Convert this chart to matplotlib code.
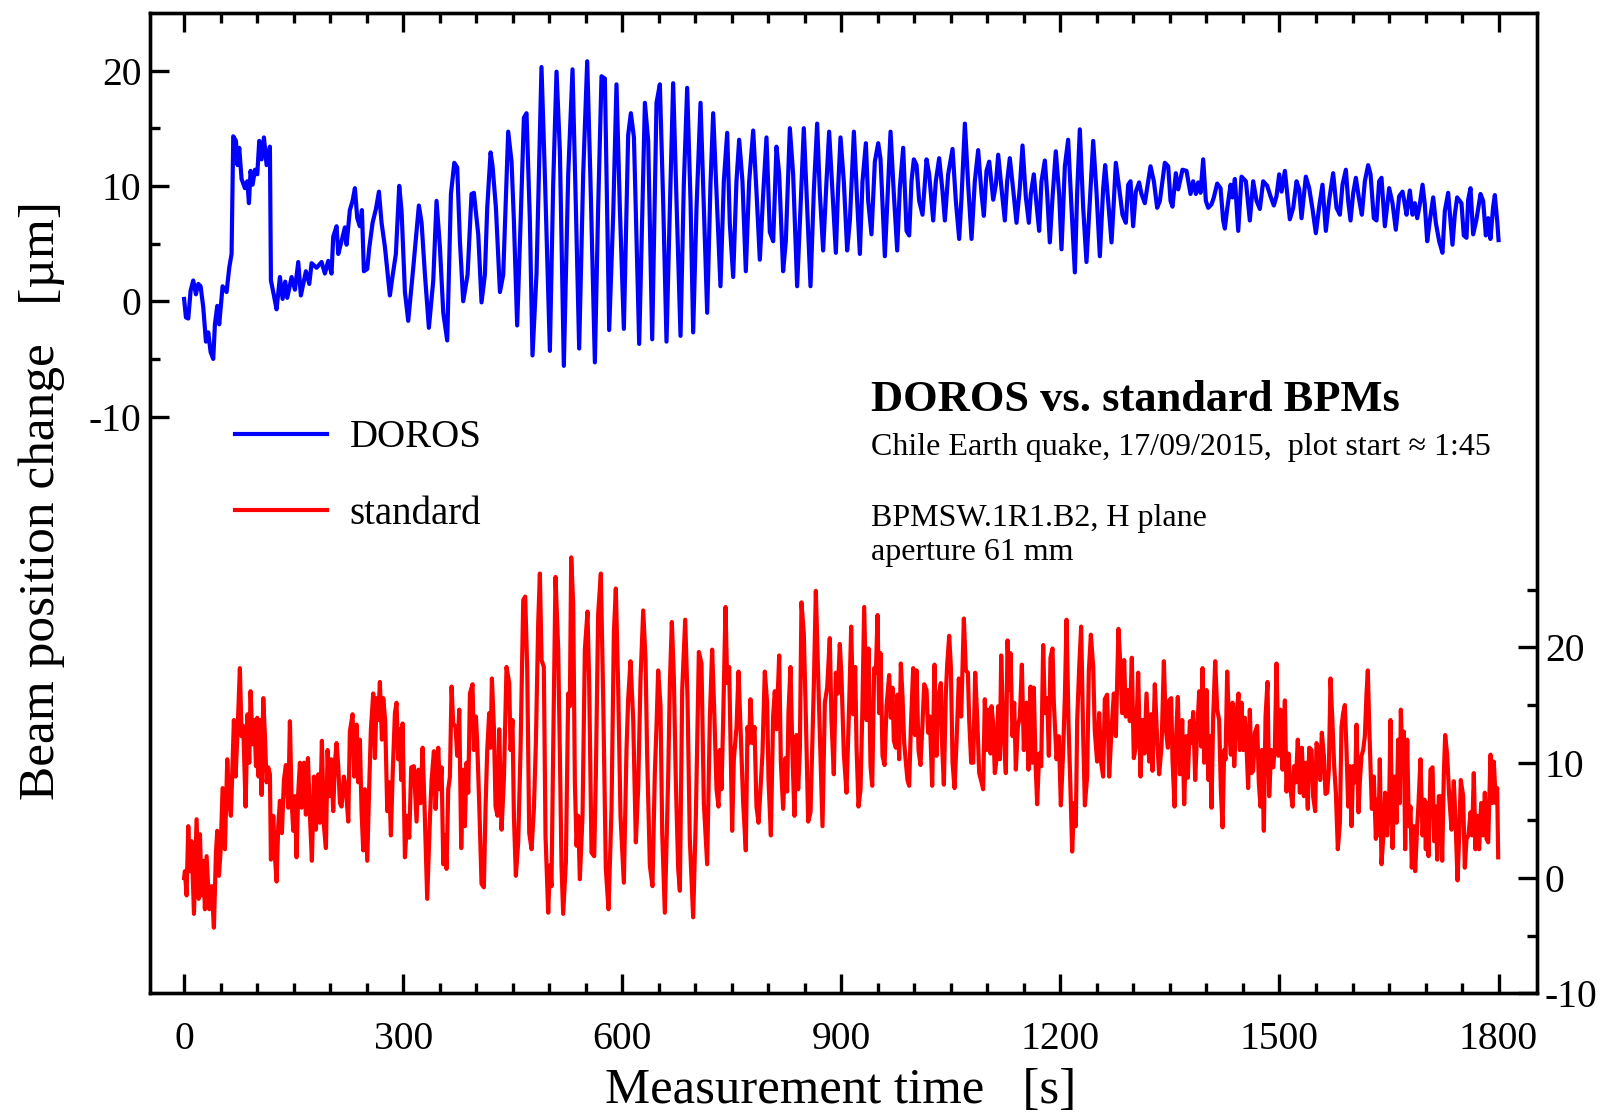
import matplotlib
matplotlib.use('Agg')
import matplotlib.pyplot as plt
from matplotlib.ticker import FixedLocator

plt.rcParams['font.family'] = ['Liberation Serif', 'DejaVu Serif']
plt.rcParams['axes.unicode_minus'] = False

# ---------------- data ----------------
doros_t = [
    0, 2.5, 5.7, 8.9, 12.5, 16.2, 19.4, 22.6, 26.2, 29.9, 33.1, 36.3, 39.9, 42.2, 45.4, 48.1,
    52.7, 58.2, 61.8, 65.0, 67.3, 71.0, 73.2, 75.5, 78.7, 83.3, 86.5, 88.8, 91.0, 93.8, 97.0,
    100.2, 102.9, 106.1, 109.3, 113.0, 117.5, 118.9, 123.0, 126.6, 131.2, 134.9, 138.5, 141.3,
    147.2, 151.8, 156.3, 159.9, 166.8, 171.4, 174.6, 181.4, 188.3, 192.8, 197.4, 201.9, 204.2,
    208.8, 211.1, 215.6, 220.2, 222.5, 227.0, 230.7, 233.9, 237.1, 240.7, 243.5, 246.2, 250.8,
    253.5, 258.1, 262.7, 266.8, 270.4, 275.0, 281.8, 285.5, 290.0, 294.6, 297.8, 302.4, 306.9,
    313.8, 321.5, 325.2, 329.7, 335.2, 341.2, 345.7, 350.3, 354.9, 360.3, 365.4, 370.0, 374.0,
    377.7, 382.2, 388.2, 393.6, 396.8, 402.8, 407.3, 411.9, 415.1, 419.7, 422.4, 427.0, 432.5,
    437.0, 443.8, 448.4, 451.6, 456.1, 460.7, 465.3, 468.9, 473.5, 477.1, 482.6, 489.4, 494.0,
    500.9, 505.4, 510.0, 514.6, 520.0, 526.0, 531.9, 536.5, 541.0, 546.5, 552.0, 556.5, 562.5,
    567.0, 571.6, 576.2, 582.1, 587.6, 592.1, 596.7, 602.2, 608.1, 611.8, 616.0, 623.2, 631.0,
    635.5, 641.0, 646.9, 651.5, 656.0, 660.6, 665.2, 669.7, 674.3, 679.8, 684.3, 688.9, 693.5,
    697.1, 701.7, 707.2, 711.7, 716.3, 720.8, 724.5, 729.0, 734.5, 739.1, 743.7, 747.3, 751.9,
    756.4, 760.1, 764.6, 769.2, 773.8, 779.3, 783.8, 788.4, 793.0, 797.5, 802.1, 806.7, 811.2,
    814.9, 820.3, 824.0, 829.5, 834.0, 839.5, 844.1, 848.6, 853.2, 857.8, 862.3, 866.9, 870.5,
    875.1, 879.7, 883.3, 887.9, 892.5, 895.6, 898.9, 903.4, 908.0,
    911.7, 917.2, 921.7, 925.4, 929.0, 933.6, 936.8, 941.3, 945.9, 950.5, 953.7, 959.6, 962.8,
    967.4, 971.9, 976.5, 980.1, 984.7, 989.3, 992.9, 996.1, 999.3, 1003.0, 1006.6, 1011.2,
    1016.7, 1020.3, 1025.8, 1029.4, 1034.0, 1038.6, 1041.8, 1046.3, 1052.3, 1056.8, 1061.4,
    1064.6, 1069.2, 1073.7, 1078.3, 1082.8, 1087.4, 1092.0, 1095.2, 1098.8, 1102.5, 1108.0,
    1111.6, 1114.8, 1119.3, 1123.9, 1127.1, 1130.7, 1135.3, 1139.9, 1144.4, 1148.1, 1152.7,
    1156.8, 1159.5, 1163.6, 1167.3, 1170.9, 1174.1, 1178.7, 1181.9, 1185.5, 1189.2, 1193.7,
    1198.3, 1201.5, 1206.1, 1210.6, 1215.2, 1219.8, 1223.0, 1226.6, 1231.2, 1235.7, 1240.3,
    1244.9, 1249.4, 1254.0, 1258.6, 1261.3, 1265.4, 1270.0, 1273.2, 1275.9, 1280.5, 1285.0,
    1289.6, 1292.8, 1296.0, 1299.6, 1303.3, 1307.8, 1311.0, 1315.6, 1320.2, 1323.4, 1328.0,
    1332.5,
    1336.2, 1343.0, 1347.6, 1350.8, 1353.5, 1358.1, 1361.3, 1367.2, 1372.7, 1378.2, 1381.8,
    1385.5, 1388.7, 1391.9, 1395.5, 1399.2, 1402.4, 1406.9, 1410.1, 1414.7, 1419.3, 1422.9,
    1425.2, 1428.4, 1433.0, 1435.7, 1438.9, 1443.5, 1448.0, 1454.0, 1459.4, 1464.0, 1468.6,
    1473.1, 1477.7, 1483.2, 1487.7, 1492.3, 1495.9, 1499.6, 1502.8, 1507.4, 1510.5, 1514.2,
    1518.8, 1523.4, 1527.0, 1530.2, 1536.1, 1540.7, 1545.2, 1549.8, 1554.4, 1558.9, 1563.5,
    1568.1, 1573.5, 1578.1, 1582.7, 1586.3, 1590.9, 1594.1, 1597.3, 1601.0, 1604.6, 1609.1,
    1612.8, 1616.9, 1621.4, 1624.7, 1629.2, 1632.9, 1636.5, 1639.7, 1644.3, 1650.2, 1654.8,
    1659.3, 1663.9, 1668.5, 1671.7, 1674.0, 1678.5, 1682.2, 1685.4, 1688.6, 1692.2, 1695.9,
    1699.0, 1702.3, 1705.9, 1710.5, 1714.1, 1718.7, 1723.2, 1726.4, 1731.0, 1734.2, 1736.9,
    1740.1, 1743.3, 1749.2, 1752.4, 1756.1, 1758.4, 1761.6, 1765.2, 1769.8, 1775.3, 1778.9,
    1782.6, 1785.8, 1788.9, 1792.6, 1794.9, 1798.1, 1800.0,
]
doros_um = [
    0.2, -1.4, -1.5, 0.9, 1.8, 0.6, 1.5, 1.3, -0.5, -3.5, -2.7, -4.4, -5.0, -2.0, -0.4, -2.0,
    1.3, 0.8, 2.9, 4.1, 14.3, 13.9, 11.8, 13.3, 10.6, 9.8, 10.4, 8.5, 11.3, 10.1, 11.4,
    11.0, 13.9, 12.3, 14.2, 11.8, 13.4, 1.8, 0.5, -0.7, 2.1, 0.2, 1.7, 0.3,
    2.1, 1.0, 3.4, 0.5, 2.6, 1.5, 3.3, 2.9, 3.4, 2.4, 3.5, 2.4, 5.6,
    6.5, 4.1, 5.2, 6.4, 4.9, 7.9, 8.7, 9.8, 7.2, 6.5, 7.9, 2.6, 2.8,
    4.6, 6.8, 8.0, 9.5, 6.8, 4.7, 0.5, 2.2, 4.1, 10.0, 7.8, 0.8, -1.7,
    2.9, 8.3, 6.8, 2.4, -2.3, 1.8, 8.7, 4.7, -1.0, -3.4, 9.3, 12.0, 11.6,
    5.2, 0.0, 2.3, 9.3, 9.4, 5.8, -0.1, 2.3, 8.1, 12.9, 11.7, 8.1, 0.8,
    2.3, 14.7, 12.1, 7.0, -2.1, 6.7, 15.9, 16.3, 7.0, -4.7, 2.4, 20.3, 11.0,
    -4.3, 10.1, 19.9, 13.0, -5.6, 11.0, 20.1, 8.1, -4.1, 11.0, 20.8, 10.4, -5.3,
    8.1, 19.5, 19.3, -2.5, 7.5, 18.8, 8.1, -2.4, 14.4, 16.3, 14.2, -3.7, 17.2,
    13.9, -3.3, 17.2, 18.8, 8.7, -3.5, 8.1, 18.9, 8.7, -3.0, 10.1, 18.5, 8.7,
    -2.7, 8.1, 17.2, 8.1, -1.0, 10.1, 16.3, 9.5, 1.3, 10.4, 14.6, 6.7, 2.1,
    10.4, 14.0, 10.4, 2.6, 10.4, 14.8, 9.5, 3.6, 9.3, 14.2, 6.0, 5.2, 13.4,
    11.0, 2.6, 5.2, 15.0, 11.0, 1.3, 8.1, 15.0, 8.1, 1.3, 9.5, 15.4, 9.5,
    4.4, 10.4, 14.7, 9.5, 4.2, 9.8, 14.2, 10.4, 4.4,
    7.0, 14.7, 8.7, 4.1, 10.4, 13.7, 8.7, 5.8, 12.1, 13.7, 12.3, 3.9, 8.4,
    14.7, 9.3, 4.4, 9.8, 13.3, 6.1, 5.7, 10.4, 12.3, 11.8, 8.7, 7.5,
    12.3, 11.0, 7.0, 10.4, 12.4, 9.5, 7.0, 11.0, 13.2, 8.7, 5.4,
    9.0, 15.4, 10.1, 5.4, 10.4, 13.1, 9.3, 7.4, 11.3, 12.1, 8.8,
    10.1, 12.7, 9.8, 7.0, 10.4, 12.4, 9.7, 6.8, 9.8, 13.5, 9.0,
    6.8, 9.3, 11.0, 8.4, 6.1, 10.4, 12.2, 9.3, 5.1, 9.0, 13.0,
    9.3, 4.5, 11.7, 14.0, 8.1, 2.5, 9.5, 14.9, 8.1, 3.4, 8.7,
    13.9, 9.5, 3.9, 9.8, 11.8, 8.7, 5.1, 8.7, 12.0, 9.8, 7.5,
    6.8, 10.1, 10.4, 6.5, 9.5, 10.3, 9.3, 8.5, 10.4, 11.7, 10.4,
    8.1,
    8.7, 12.0, 11.7, 8.7, 8.2, 11.1, 9.7, 11.4, 11.3, 9.3, 10.4,
    9.3, 10.3, 9.4, 12.3, 8.7, 8.1, 8.4, 9.0, 10.2, 9.8, 7.0,
    6.3, 8.0, 10.1, 9.0, 10.6, 6.1, 10.8, 10.4, 7.0, 10.4, 8.7,
    8.0, 10.4, 10.0, 9.1, 8.3, 9.1, 11.0, 9.5, 11.3, 9.4, 7.1,
    8.1, 10.4, 9.7, 7.2, 10.8, 9.8, 8.0, 5.9, 8.2, 10.1, 6.1,
    8.8, 11.1, 8.1, 7.5, 10.1, 11.4, 8.7, 7.0, 9.4, 10.7, 8.8,
    7.5, 10.4, 11.8, 11.0, 7.2, 7.0, 10.4, 10.7, 6.5, 9.8, 8.5,
    6.2, 9.1, 9.5, 8.4, 7.5, 9.6, 7.5, 8.5, 7.2, 8.4, 10.1,
    8.4, 5.2, 7.0, 9.0, 6.8, 5.2, 4.2, 7.8, 9.4, 7.0, 4.9,
    7.5, 9.0, 8.5, 5.7, 5.5, 8.8, 9.8, 5.8, 7.1, 9.3, 8.7,
    5.7, 7.2, 5.4, 8.2, 9.2, 7.0, 5.3,
]

std_t = [
    0, 1.1, 3.4, 5.7, 8.0, 10.3, 13.5, 17.1, 19.9, 21.7, 24.0, 26.2, 28.5, 30.8, 34.5, 37.7,
    40.8, 43.6, 45.4, 47.7, 50.0, 52.7, 55.9, 59.1, 61.8, 64.1, 68.2, 70.5, 73.2, 76.4, 78.7,
    81.0, 84.2, 86.9, 89.2, 91.0, 93.8, 96.5, 98.4, 100.2, 102.0, 103.8, 106.1, 108.4, 110.7,
    112.9, 115.2, 117.5, 118.9, 122.1, 124.4, 126.6, 128.9, 131.2, 133.9, 136.7, 139.4, 142.6,
    144.9, 147.2, 149.5, 151.8, 154.0, 156.3, 158.6, 160.9, 164.1, 166.8, 169.6, 172.3, 175.0,
    177.8, 180.5, 183.7, 186.0, 188.7, 191.5, 194.2, 196.5, 198.8, 201.5, 204.2, 206.5, 208.8,
    211.1, 213.4, 215.6, 218.8, 221.6, 224.8, 227.0, 230.7, 233.0, 236.2, 238.5, 240.7, 243.0,
    245.3, 247.6, 250.8, 253.5, 255.8, 259.0, 261.3, 263.6, 265.9, 268.1, 270.9, 272.7, 275.4,
    278.2, 280.9, 283.2, 285.5, 288.7, 290.9, 293.2, 295.5, 297.3, 299.2, 302.4, 305.6, 308.3,
    311.0, 314.7, 318.3, 321.1, 323.8, 326.6, 329.3, 332.9, 336.6, 338.9, 342.1, 344.4, 348.0,
    350.3, 352.6, 354.9, 357.1, 359.4, 361.7, 364.0, 366.3, 368.5, 371.7, 374.0, 376.8, 379.5,
    382.2, 384.5, 386.8, 389.1, 391.4, 395.0, 396.8, 399.6, 401.4, 404.1, 407.3, 410.5, 412.8,
    415.1, 417.8, 419.7, 421.5, 424.2, 426.5, 429.2, 431.5,
    434.7, 437.9, 441.5, 445.2, 447.0, 449.7, 451.6, 454.3, 457.5, 460.7, 464.4, 467.1, 469.8,
    472.6, 475.8, 479.0, 481.7, 484.9, 487.2, 489.5, 492.6, 494.9, 498.6, 500.9, 503.1, 505.4,
    508.6, 512.3, 514.6, 516.8, 519.1, 522.8, 526.0, 528.2, 530.1, 532.8, 535.1, 537.4, 539.7,
    541.9, 545.6, 548.8, 552.4, 554.7, 557.9, 561.6, 563.8, 567.0, 570.7, 573.9, 577.5, 581.2,
    585.3, 588.5, 591.2, 594.4, 597.6, 602.2, 605.8, 608.1, 611.3, 615.0, 618.6, 621.8, 625.0,
    628.7, 631.9, 634.1, 637.8, 641.4, 644.6, 646.9, 649.2, 652.4, 654.7, 658.3, 662.9, 665.2,
    667.9, 670.6, 673.4, 676.6, 678.9, 682.1, 686.2, 689.4, 692.5, 697.1, 700.8, 704.9, 708.5,
    711.7, 716.3, 720.0, 723.1, 725.9, 729.1, 731.8, 733.6, 735.9, 738.2, 741.4, 743.7, 746.4,
    748.2, 750.5, 752.8, 756.5, 759.2, 762.0, 765.6, 769.2, 771.5, 773.8, 775.6, 778.4, 781.1,
    783.8, 786.6, 789.3, 792.0, 795.2, 798.4, 800.3, 803.5, 806.6, 808.9, 811.2, 814.9, 817.2,
    820.3, 823.5, 825.8, 827.6, 830.4, 833.1, 835.8, 838.6, 840.9, 843.2, 845.4, 848.6, 851.4,
    854.6, 857.8, 860.5, 862.3, 865.1, 868.3, 871.5, 874.2, 877.4, 880.6, 884.2, 886.5, 889.7,
    892.5, 895.2, 897.9, 900.2, 903.4, 907.1, 910.8,
    913.5, 916.2, 919.0, 920.8, 923.5, 926.3, 928.6, 931.3, 934.5, 937.2, 940.0, 942.3, 945.0,
    947.3, 949.6, 951.8, 953.7, 956.4, 959.2, 961.9, 965.5, 967.8, 970.1, 971.9, 974.7, 977.0,
    979.2, 981.5, 983.8, 986.1, 988.4, 990.6, 992.9, 995.2, 998.4, 1000.7, 1003.0, 1005.7,
    1008.4, 1011.2, 1013.5, 1016.7, 1018.9, 1021.2, 1024.4, 1027.6, 1030.3, 1033.1, 1036.3,
    1038.1, 1040.4, 1043.1, 1045.0, 1047.7, 1050.0, 1052.3, 1055.0, 1057.7, 1060.9, 1064.1,
    1067.8, 1070.5, 1073.3, 1075.1, 1077.8, 1080.6, 1083.3, 1086.0, 1088.8, 1092.0, 1094.2,
    1096.5, 1098.8, 1101.5, 1104.3, 1105.7, 1107.9, 1110.2, 1112.5, 1114.8, 1117.1, 1118.9,
    1121.6, 1123.9, 1125.3, 1127.6, 1129.9, 1131.7, 1134.4, 1136.7, 1139.0, 1141.7, 1144.5,
    1147.2, 1149.9, 1153.6, 1156.3, 1159.1, 1161.3, 1163.6, 1165.9, 1168.2, 1170.9, 1173.7,
    1176.4, 1178.7, 1181.9, 1184.2, 1186.4, 1189.2, 1191.0, 1194.7, 1197.9, 1200.6, 1203.8,
    1206.1, 1208.4, 1211.1, 1213.8, 1216.1, 1218.8, 1221.1, 1223.0, 1225.7, 1228.4, 1231.2,
    1233.5, 1236.6, 1238.9, 1241.7, 1244.9, 1247.1, 1250.3, 1253.1, 1255.8, 1258.5, 1260.8,
    1264.0, 1266.8, 1270.0, 1273.2, 1275.9, 1279.5, 1282.3, 1284.6, 1287.3, 1289.6, 1292.3,
    1295.1, 1297.8, 1300.5, 1303.3, 1306.5, 1309.7, 1312.4, 1315.1, 1317.9, 1321.5, 1323.8,
    1326.1, 1329.3, 1332.5, 1335.2,
    1338.5, 1341.7, 1344.4, 1347.2, 1349.0, 1351.7, 1353.5, 1356.3, 1358.1, 1360.8, 1363.6,
    1366.8, 1369.5, 1372.3, 1374.5, 1377.3, 1379.6, 1381.8, 1384.6, 1387.3, 1390.1, 1392.8,
    1394.6, 1396.9, 1400.1, 1402.8, 1404.7, 1406.9, 1409.2, 1412.0, 1414.7, 1417.4, 1419.7,
    1422.0, 1424.3, 1426.1, 1428.4, 1431.1, 1433.4, 1435.7, 1438.0, 1441.2, 1443.9, 1445.7,
    1448.0, 1450.3, 1452.6, 1454.9, 1457.1, 1459.4, 1461.7, 1464.0, 1466.3, 1469.5, 1471.7,
    1474.0, 1475.9, 1478.6, 1480.9, 1483.6, 1485.9, 1488.6, 1491.4, 1493.7, 1495.9, 1498.7,
    1501.4, 1504.2, 1507.4, 1509.6, 1512.4, 1515.1, 1517.9, 1520.1, 1522.4, 1525.1, 1527.9,
    1530.6, 1533.4, 1536.1, 1538.8, 1540.7, 1543.9, 1546.1, 1548.9, 1550.7, 1553.4, 1555.7,
    1558.0, 1560.8, 1563.0, 1565.3, 1567.6, 1569.9, 1572.6, 1574.9, 1577.2, 1579.9, 1582.7,
    1584.9, 1587.2, 1589.5, 1591.8, 1594.1, 1596.4, 1598.6, 1600.9, 1603.7, 1605.5, 1608.2,
    1610.0, 1612.3, 1614.6, 1616.9, 1619.2, 1621.0, 1622.8, 1624.6, 1626.5, 1629.2, 1632.0,
    1633.8, 1635.6, 1637.4, 1639.7, 1642.0, 1644.7, 1647.5, 1650.2, 1652.0, 1654.8, 1657.5,
    1660.3, 1662.5, 1664.8, 1666.2, 1668.5, 1670.3, 1672.1, 1674.9, 1677.1, 1679.4, 1681.2,
    1684.0, 1685.8, 1688.6, 1690.4, 1693.1, 1695.9, 1698.6, 1700.4, 1702.2, 1704.1, 1706.8,
    1709.6, 1711.8, 1714.1, 1716.0, 1718.2, 1720.5, 1722.8, 1725.1, 1726.9, 1729.6, 1732.4,
    1735.6, 1738.7, 1741.0, 1743.8, 1746.1, 1748.3, 1751.5, 1753.8, 1756.1, 1758.8, 1761.6,
    1763.8, 1766.1, 1768.4, 1770.7, 1773.4, 1776.2, 1778.9, 1781.2, 1783.5, 1785.8, 1789.0,
    1791.2, 1793.5, 1796.3, 1798.1, 1799.5,
]
std_um = [
    0.0, 0.6, -1.5, 4.5, 0.6, 3.2, -3.1, 5.1, -1.8, 3.8, -1.5, 1.5, -2.7, 1.9, -2.7, -0.7,
    -4.3, 2.2, 4.1, 0.2, 2.4, 7.8, 2.5, 10.3, 6.5, 5.4, 13.7, 8.8, 12.7, 18.2, 12.3,
    13.2, 6.2, 14.2, 10.0, 16.2, 11.6, 13.7, 9.7, 13.9, 8.8, 13.7, 7.2, 15.6, 12.3,
    8.3, 9.6, 9.0, 1.6, 5.4, 1.9, -0.3, 4.5, 6.7, 3.9, 8.5, 9.8, 6.1,
    13.6, 6.8, 4.1, 7.1, 1.8, 7.4, 10.0, 6.1, 10.0, 5.5, 10.4, 5.4, 1.5,
    8.8, 4.2, 9.0, 4.8, 11.9, 4.5, 2.6, 11.1, 7.1, 10.3, 5.8, 10.0, 11.7,
    9.7, 6.5, 6.2, 8.8, 7.7, 4.9, 12.7, 14.2, 8.8, 13.3, 8.3, 12.0, 5.8,
    2.4, 7.7, 1.5, 8.0, 12.9, 16.0, 10.4, 15.6, 13.7, 17.0, 12.0, 15.6, 13.6,
    5.8, 8.3, 3.7, 8.8, 14.3, 15.2, 10.3, 12.9, 8.5, 13.4, 1.8, 5.4, 3.5,
    9.6, 9.7, 4.9, 9.4, 6.5, 11.3, 6.1, -1.8, 5.1, 8.5, 11.0, 6.0, 11.3,
    7.7, 9.6, 1.2, 3.7, 0.8, 7.7, 8.8, 16.6, 13.4, 13.1, 10.6, 14.6, 2.6,
    9.4, 4.5, 10.0, 7.4, 16.0, 16.8, 11.1, 14.0, 11.7, 6.5, -0.5, -0.8, 6.1,
    11.1, 14.3, 11.3, 17.3, 13.1, 6.2, 5.4, 12.9,
    4.2, 8.5, 18.3, 16.9, 11.1, 13.7, 5.4, 0.2, 3.1, 11.1, 24.1, 24.4, 18.3,
    3.9, 2.5, 6.0, 11.7, 22.1, 26.4, 18.9, 18.3, 3.7, -3.0, 1.1, -0.7, 11.1,
    26.1, 19.8, 10.6, 1.1, -3.1, 1.4, 16.0, 14.9, 27.8, 23.8, 8.3, 2.8, 5.4,
    -0.1, 5.4, 19.8, 23.1, 16.9, 2.2, 1.9, 8.8, 22.9, 26.4, 15.5, 0.8, -2.7,
    6.0, 21.2, 25.1, 16.6, 5.4, -0.4, 11.1, 15.5, 18.8, 13.7, 3.1, 7.8, 17.2,
    23.2, 18.9, 10.6, 1.1, -0.7, 9.1, 13.1, 18.0, 14.9, 3.9, -3.0, 8.8, 16.9,
    22.2, 17.5, 8.3, 0.8, -1.1, 16.3, 22.4, 15.5, 3.4, -3.4, 5.4, 19.6, 18.6,
    6.5, 1.2, 14.0, 19.8, 14.6, 7.7, 6.2, 11.1, 7.7, 13.7, 23.5, 16.9, 18.3,
    12.0, 4.1, 10.3, 13.1, 17.9, 12.9, 6.5, 2.4, 13.1, 11.7, 15.5, 11.7, 13.1,
    6.2, 4.8, 7.7, 10.8, 17.9, 15.2, 8.5, 3.7, 14.0, 16.2, 12.9, 19.3, 10.0,
    6.0, 10.4, 7.5, 14.3, 18.3, 10.6, 5.4, 12.4, 7.7, 11.1, 23.9, 21.2, 14.0,
    4.9, 5.7, 12.4, 16.6, 24.9, 17.5, 10.6, 4.5, 15.2, 16.5, 20.8, 13.7, 9.0,
    17.8, 16.0, 20.3, 17.5, 10.8, 7.4, 15.2,
    21.8, 14.2, 18.3, 11.4, 6.2, 7.7, 14.0, 23.5, 13.7, 19.9, 9.7, 8.0, 18.2,
    17.8, 22.8, 14.3, 19.5, 10.6, 9.8, 14.9, 17.6, 13.9, 16.5, 11.9, 11.3, 15.9,
    10.3, 18.6, 15.7, 11.7, 10.0, 8.5, 8.0, 13.1, 18.2, 12.4, 18.0, 11.1,
    9.8, 13.4, 16.8, 16.3, 12.6, 14.0, 8.0, 18.5, 10.6, 15.7, 16.9,
    11.4, 8.1, 16.0, 18.5, 21.0, 18.3, 10.0, 7.8, 11.7, 17.3, 14.0,
    22.5, 18.0, 17.8, 13.7, 10.0, 10.0, 17.8, 14.0, 9.1, 8.3, 7.7,
    15.5, 11.1, 14.6, 10.8, 14.9, 13.4, 9.1, 10.3, 14.9, 10.3, 19.3,
    13.4, 10.8, 9.1, 20.6, 16.3, 19.5, 12.3, 15.2, 9.4, 13.1, 14.0,
    18.5, 11.1, 15.2, 9.4, 16.6, 10.0, 16.5, 10.0, 6.4, 10.8, 9.7,
    20.2, 14.3, 15.6, 10.6, 19.1, 19.9, 15.2, 10.3, 12.3, 6.3, 11.1,
    15.7, 22.4, 13.4, 7.7, 2.3, 6.5, 4.5, 13.7, 18.2, 21.8, 12.3,
    6.3, 8.8, 17.9, 21.1, 18.3, 12.7, 10.1, 14.3, 10.0, 8.8, 15.5,
    15.9, 8.8, 12.9, 16.0, 12.3, 21.6, 18.3, 14.3, 18.9, 14.0, 16.3,
    13.6, 19.1, 10.4, 11.4, 17.8, 8.8, 13.7, 10.8, 16.0, 10.1, 14.2,
    9.3, 16.8, 12.0, 9.0,
    11.4, 18.8, 12.9, 11.3, 15.4, 15.6, 10.3, 6.2, 11.7, 15.7, 9.0,
    13.7, 6.4, 12.3, 8.7, 13.6, 11.7, 14.4, 8.5, 12.7, 16.2, 11.4,
    18.2, 10.0, 16.3, 8.5, 12.3, 6.1, 14.0, 18.8, 14.6, 13.7, 7.7,
    4.4, 11.1, 10.3, 17.9, 12.9, 10.7, 15.2, 9.7, 14.3, 16.0, 11.1,
    15.2, 11.1, 13.9, 11.4, 7.8, 14.6, 9.1, 9.3, 12.6, 13.2, 8.3,
    6.2, 11.1, 4.1, 14.0, 17.0, 7.1, 11.1, 9.6, 11.3, 18.6, 10.6,
    14.6, 9.4, 15.4, 7.5, 10.8, 7.7, 6.2, 9.7, 8.3, 12.0, 7.4,
    11.3, 7.1, 10.0, 6.0, 11.3, 11.1, 7.1, 5.8, 11.7, 11.1, 8.5,
    12.6, 10.6, 7.3, 7.4, 9.4, 17.3, 13.4, 9.7, 7.4, 2.5, 4.8,
    13.1, 14.3, 15.0, 11.1, 6.2, 9.7, 4.5, 9.7, 8.3, 13.3, 5.7,
    8.3, 10.6, 11.1, 12.3, 16.0, 18.0, 13.4, 9.8, 6.0, 8.8, 3.4,
    6.8, 3.7, 10.3, 1.2, 3.4, 7.4, 3.7, 6.5, 13.7, 2.6, 8.8,
    4.8, 12.0, 6.5, 14.6, 9.7, 12.7, 2.5, 12.0, 4.5, 6.2, 0.9,
    4.5, 0.6, 4.5, 6.5, 10.3, 3.7, 6.8, 2.5, 6.5, 1.9, 9.4,
    9.6, 3.2, 6.2, 1.6, 7.1, 7.1, 1.5, 9.1, 12.4, 10.7, 7.1,
    4.2, 8.4, 5.1, -0.2, 3.7, 8.5, 7.1, 0.9, 3.4, 3.7, 5.7,
    3.7, 9.1, 2.5, 5.4, 2.5, 6.5, 3.7, 7.4, 3.4, 3.1, 10.7,
    6.5, 10.1, 6.5, 7.8, 1.8,
]

x_major = [0, 300, 600, 900, 1200, 1500, 1800]
x_minor = [t for t in range(0, 1801, 50) if t % 300 != 0]
y_left_major = [-10, 0, 10, 20]
y_left_minor = [-5, 5, 15]
y_right_major = [-10, 0, 10, 20]
y_right_minor = [-5, 5, 15, 25]

# ---------------- figure ----------------
fig = plt.figure(figsize=(16.14, 11.15), dpi=100)
ax = fig.add_axes([0.0928, 0.109, 0.8592, 0.8795])
ax2 = ax.twinx()

l1, = ax.plot(doros_t, doros_um, color='#0000ff', lw=3.0, label='DOROS', solid_joinstyle='round')
l2, = ax2.plot(std_t, std_um, color='#ff0000', lw=3.0, label='standard', solid_joinstyle='round')

ax.set_xlim(-47, 1852)
ax.set_ylim(-60, 25)
ax2.set_ylim(-10, 75)

ax.xaxis.set_major_locator(FixedLocator(x_major))
ax.xaxis.set_minor_locator(FixedLocator(x_minor))
ax.yaxis.set_major_locator(FixedLocator(y_left_major))
ax.yaxis.set_minor_locator(FixedLocator(y_left_minor))
ax2.yaxis.set_major_locator(FixedLocator(y_right_major))
ax2.yaxis.set_minor_locator(FixedLocator(y_right_minor))

lw_axis = 2.4
for a in (ax, ax2):
    for s in a.spines.values():
        s.set_linewidth(lw_axis)

ax.tick_params(axis='x', which='both', direction='in', top=True, bottom=True,
               width=2.4, labelsize=28.5, pad=20)
ax.tick_params(axis='x', which='major', length=13.5)
ax.tick_params(axis='x', which='minor', length=7)
ax.tick_params(axis='y', which='both', direction='in', left=True, right=False,
               width=2.4, labelsize=28.5, pad=6)
ax.tick_params(axis='y', which='major', length=13.5)
ax.tick_params(axis='y', which='minor', length=7)
ax2.tick_params(axis='y', which='both', direction='in', left=False, right=True,
                width=2.4, labelsize=28.5, pad=6)
ax2.tick_params(axis='y', which='major', length=13.5)
ax2.tick_params(axis='y', which='minor', length=7)

ax.set_xlabel('Measurement time   [s]', fontsize=36.5, va='baseline')
ax.xaxis.set_label_coords(0.4984, -0.112)
ax.set_ylabel('Beam position change   [\u00b5m]', fontsize=37, va='center')
ax.yaxis.set_label_coords(-0.078, 0.5024)

fig.legend(handles=[l1, l2], labels=['DOROS', 'standard'], loc='upper left',
           bbox_to_anchor=(0.1454, 0.6241), bbox_transform=fig.transFigure,
           frameon=False, fontsize=28, handlelength=2.38, handletextpad=0.58,
           labelspacing=1.02, borderpad=0, borderaxespad=0)

tx = 0.5395
fig.text(tx, 0.6317, 'DOROS vs. standard BPMs', fontsize=32, fontweight='bold', va='baseline')
fig.text(tx, 0.5919, 'Chile Earth quake, 17/09/2015,  plot start \u2248 1:45', fontsize=23, va='baseline')
fig.text(tx, 0.5283, 'BPMSW.1R1.B2, H plane', fontsize=23, va='baseline')
fig.text(tx, 0.4978, 'aperture 61 mm', fontsize=23, va='baseline')

fig.savefig('out.png', dpi=100)
